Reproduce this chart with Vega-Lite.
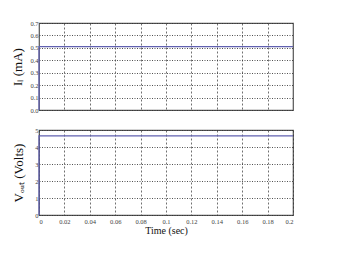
{
  "$schema": "https://vega.github.io/schema/vega-lite/v6.json",
  "background": "white",
  "padding": {"left": 11, "top": 19, "right": 10, "bottom": 5},
  "spacing": 11,
  "config": {
    "view": {"stroke": "#555555", "strokeWidth": 1.2},
    "font": "Liberation Serif",
    "axis": {
      "labelFont": "Liberation Serif",
      "titleFont": "Liberation Serif",
      "labelFontSize": 6.5,
      "labelColor": "#444444",
      "titleFontWeight": "normal",
      "titleColor": "#111111",
      "domain": false,
      "ticks": false,
      "gridColor": "#333333",
      "gridOpacity": 0.85,
      "gridWidth": 1
    }
  },
  "datasets": {
    "il": [
      {"t": 0, "v": 0},
      {"t": 0, "v": 0.51},
      {"t": 0.2, "v": 0.51}
    ],
    "vout": [
      {"t": 0, "v": 0},
      {"t": 0, "v": 4.65},
      {"t": 0.2, "v": 4.65}
    ]
  },
  "vconcat": [
    {
      "width": 254,
      "height": 87,
      "data": {"name": "il"},
      "mark": {"type": "line", "color": "#6060b0", "strokeWidth": 1.3},
      "encoding": {
        "x": {
          "field": "t", "type": "quantitative", "scale": {"domain": [0, 0.2], "nice": false},
          "axis": {"title": null, "labels": false, "values": [0.02,0.04,0.06,0.08,0.1,0.12,0.14,0.16,0.18], "gridDash": [2, 2], "gridOpacity": 0.7}
        },
        "y": {
          "field": "v", "type": "quantitative", "scale": {"domain": [0, 0.7], "nice": false},
          "axis": {"title": "Iₗ (mA)", "titleFontSize": 13, "values": [0,0.1,0.2,0.3,0.4,0.5,0.6,0.7], "gridDash": [1, 1.5], "labelPadding": 1, "titlePadding": 5}
        }
      }
    },
    {
      "width": 254,
      "height": 85,
      "data": {"name": "vout"},
      "mark": {"type": "line", "color": "#6060b0", "strokeWidth": 1.3},
      "encoding": {
        "x": {
          "field": "t", "type": "quantitative", "scale": {"domain": [0, 0.2], "nice": false},
          "axis": {"title": "Time (sec)", "titleFontSize": 10, "format": "~g", "values": [0,0.02,0.04,0.06,0.08,0.1,0.12,0.14,0.16,0.18,0.2], "gridDash": [2, 2], "gridOpacity": 0.7, "labelPadding": 3, "titlePadding": 1}
        },
        "y": {
          "field": "v", "type": "quantitative", "scale": {"domain": [0, 5], "nice": false},
          "axis": {"title": "Vₒᵤₜ (Volts)", "titleFontSize": 13, "values": [0,1,2,3,4,5], "gridDash": [1, 1.5], "labelPadding": 1, "titlePadding": 9}
        }
      }
    }
  ]
}
